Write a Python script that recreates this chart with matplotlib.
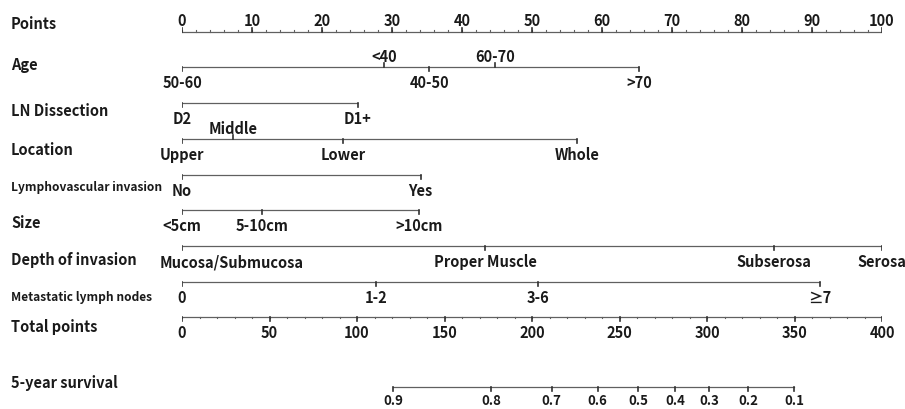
import matplotlib
matplotlib.use("Agg")
import matplotlib.pyplot as plt
from matplotlib.transforms import blended_transform_factory, offset_copy

plt.rcParams["font.family"] = ["Noto Sans CJK KR", "DejaVu Sans"]

# ---- data ----
points_major = list(range(0, 101, 10))
points_minor = list(range(0, 101, 2))

age_labels = ["50-60", "<40", "40-50", "60-70", ">70"]
age_points = [0, 28.9, 35.3, 44.7, 65.3]

ln_labels = ["D2", "D1+"]
ln_points = [0, 25.1]

loc_labels = ["Upper", "Middle", "Lower", "Whole"]
loc_points = [0, 7.3, 23.0, 56.4]

lvi_labels = ["No", "Yes"]
lvi_points = [0, 34.1]

size_labels = ["<5cm", "5-10cm", ">10cm"]
size_points = [0, 11.4, 33.9]

depth_labels = ["Mucosa/Submucosa", "Proper Muscle", "Subserosa", "Serosa"]
depth_points = [0, 43.3, 84.5, 100]

meta_labels = ["0", "1-2", "3-6", "≥7"]
meta_points = [0, 27.7, 50.9, 91.1]

total_major = list(range(0, 401, 50))
total_minor = list(range(0, 401, 10))

surv_labels = ["0.9", "0.8", "0.7", "0.6", "0.5", "0.4", "0.3", "0.2", "0.1"]
surv_total = [120.7, 176.6, 211.2, 237.5, 260.8, 281.7, 301.3, 323.6, 349.7]

# ---- figure ----
fig = plt.figure(figsize=(9.05, 4.09), dpi=100)
ax = fig.add_axes([182 / 905, 0, 700 / 905, 1])
ax.set_xlim(0, 100)
ax.set_ylim(409, 0)
ax.axis("off")

LINE = "#606060"
TICK = "#303030"
TXT = "#1a1a1a"
FS = 10.5
name_tr = blended_transform_factory(fig.transFigure, ax.transData)


def row_name(y, text, size=FS):
    ax.text(11 / 905, y + 2, text, transform=name_tr, fontsize=size,
            fontweight="bold", color=TXT, va="center", ha="left")


def variable(y, xs, labels, above=(), left=()):
    ax.plot([min(xs), max(xs)], [y, y], color=LINE, lw=0.9, solid_capstyle="butt")
    for x, lab in zip(xs, labels):
        up = lab in above
        ax.plot([x, x], [y, y - 4 if up else y + 4], color=TICK, lw=1.2)
        ha = "center"
        tr = ax.transData
        if lab in left:
            ha = "left"
            tr = offset_copy(ax.transData, fig=fig, x=-22, y=0, units="dots")
        ax.text(x, y - 10 if up else y + 16.5, lab, transform=tr, ha=ha, va="center",
                fontsize=FS, fontweight="bold", color=TXT)


# Points axis
yp = 31.5
ax.plot([0, 100], [yp, yp], color=LINE, lw=0.9)
for m in points_minor:
    ax.plot([m, m], [yp, yp - 1.8], color=LINE, lw=0.8)
for m in points_major:
    ax.plot([m, m], [yp, yp - 4], color=TICK, lw=1.2)
    ax.text(m, yp - 10.5, str(m), ha="center", va="center", fontsize=FS,
            fontweight="bold", color=TXT)
row_name(22, "Points")

variable(67, age_points, age_labels, above=("<40", "60-70"))
row_name(63, "Age")

variable(103, ln_points, ln_labels)
row_name(109, "LN Dissection")

variable(138.5, loc_points, loc_labels, above=("Middle",))
row_name(148, "Location")

variable(174.5, lvi_points, lvi_labels)
row_name(186, "Lymphovascular invasion", size=8.6)

variable(209.5, size_points, size_labels)
row_name(221, "Size")

variable(245.5, depth_points, depth_labels, left=("Mucosa/Submucosa",))
row_name(258, "Depth of invasion")

variable(281.5, meta_points, meta_labels)
row_name(295, "Metastatic lymph nodes", size=8.6)

# Total points axis (400 total points span the 100-point width)
yt = 316.5
scale = 100 / 400
ax.plot([0, 100], [yt, yt], color=LINE, lw=0.9)
for m in total_minor:
    ax.plot([m * scale, m * scale], [yt, yt + 1.8], color=LINE, lw=0.8)
for m in total_major:
    ax.plot([m * scale, m * scale], [yt, yt + 4], color=TICK, lw=1.2)
    ax.text(m * scale, yt + 16.5, str(m), ha="center", va="center", fontsize=FS,
            fontweight="bold", color=TXT)
row_name(325, "Total points")

# 5-year survival
ys = 386.5
sx = [t * scale for t in surv_total]
ax.plot([min(sx), max(sx)], [ys, ys], color=LINE, lw=0.9)
for x, lab in zip(sx, surv_labels):
    ax.plot([x, x], [ys, ys + 4], color=TICK, lw=1.2)
    ax.text(x, ys + 14.5, lab, ha="center", va="center", fontsize=9.5,
            fontweight="bold", color=TXT)
row_name(381, "5-year survival")

fig.savefig("out.png", dpi=100)
